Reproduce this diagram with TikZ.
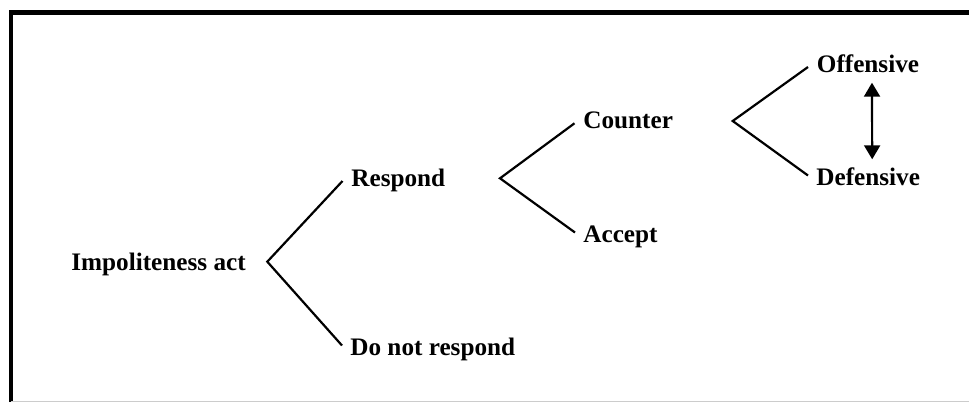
\documentclass[tikz,border=0pt]{standalone}
\usepackage{fontspec}
\setmainfont{Liberation Serif}
\usetikzlibrary{arrows.meta}

\begin{document}
\begin{tikzpicture}[x=0.5pt, y=-0.5pt,
    term/.style={font=\fontsize{12.6}{15}\selectfont\bfseries, inner sep=0pt, anchor=base west},
    branch/.style={line width=1.1pt, line join=miter},
    swap/.style={line width=1.1pt, {Triangle[width=8pt,length=7pt]}-{Triangle[width=8pt,length=7pt]}}]
  \useasboundingbox (0,0) rectangle (969,402);
  % Frame
  \draw[line width=2.3pt] (11,402) -- (11,12.6) -- (969,12.6);
  \draw[gray!40, line width=0.7pt] (11,401.2) -- (969,401.2);
  % Terms
  \node[term] (act) at (71,270) {Impoliteness act};
  \node[term] (respond) at (351,186) {Respond};
  \node[term] (noresp) at (350,355) {Do not respond};
  \node[term] (counter) at (583,128.3) {Counter};
  \node[term] (accept) at (583,242) {Accept};
  \node[term] (offens) at (816.5,72) {Offensive};
  \node[term] (defens) at (816,185) {Defensive};
  % Forks
  \coordinate (fork1) at (267.3,261.7);
  \coordinate (fork2) at (500,178.3);
  \coordinate (fork3) at (732.7,121);
  \foreach \f/\a/\b in {fork1/respond/noresp, fork2/counter/accept, fork3/offens/defens} {
    \draw[branch] ([shift={(-8.5,-5)}]\a.base west) -- (\f) -- ([shift={(-8,-9.5)}]\b.base west);
  }
  % Offensive <-> Defensive
  \draw[swap] ([shift={(4,10.7)}]offens.base) -- ([shift={(4,-25.7)}]defens.base);
\end{tikzpicture}
\end{document}
